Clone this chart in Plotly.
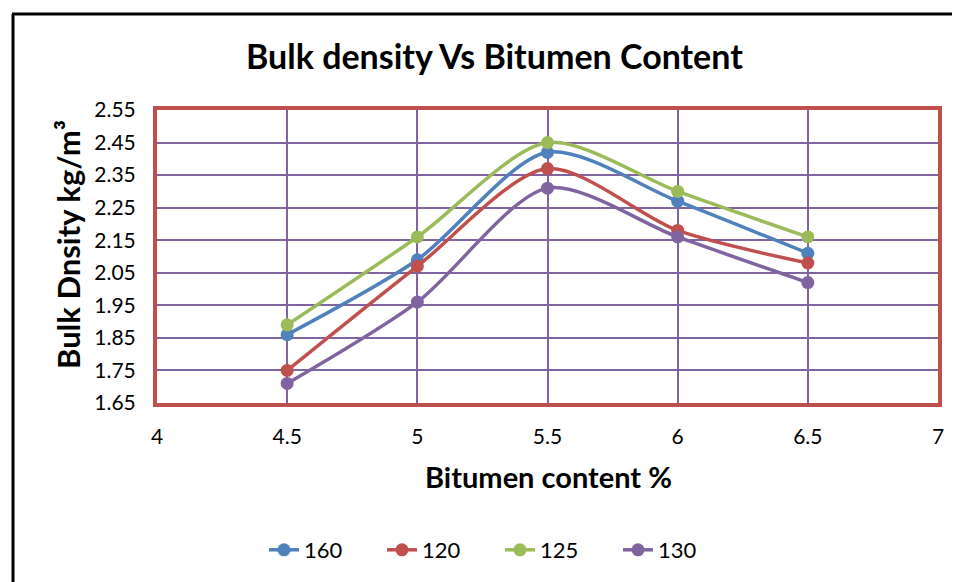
import plotly.graph_objects as go

bitumen = [4.5, 5, 5.5, 6, 6.5]
s160 = [1.86, 2.09, 2.42, 2.27, 2.11]
s120 = [1.75, 2.07, 2.37, 2.18, 2.08]
s125 = [1.89, 2.16, 2.45, 2.30, 2.16]
s130 = [1.71, 1.96, 2.31, 2.16, 2.02]
series_names = ["160", "120", "125", "130"]
colors = ["#4F81BD", "#C0504D", "#9BBB59", "#8064A2"]
y_ticks = [1.65, 1.75, 1.85, 1.95, 2.05, 2.15, 2.25, 2.35, 2.45, 2.55]
x_ticks = [4, 4.5, 5, 5.5, 6, 6.5, 7]
x_labels = ["4", "4.5", "5", "5.5", "6", "6.5", "7"]

FONT = "Lato"
OFF = 8  # page body margin
fig = go.Figure()
for name, ys, c in zip(series_names, [s160, s120, s125, s130], colors):
    fig.add_trace(go.Scatter(
        x=bitumen, y=ys, name=name, mode="lines+markers",
        line=dict(color=c, width=3.5, shape="spline", smoothing=0.8),
        marker=dict(color=c, size=13),
    ))

W, H = 952, 574
# target page coords of plot area
PL, PR, PT, PB = 157, 938, 110, 403
L = PL - OFF
T = PT - OFF
R = W - (PR - OFF)
B = H - (PB - OFF)
pw = W - L - R
ph = H - T - B

def px_x(px):
    return (px - OFF - L) / pw

def px_y(py):
    return (H - B - (py - OFF)) / ph

border = dict(color="black", width=3)
fig.update_layout(
    width=W, height=H,
    margin=dict(l=L, r=R, t=T, b=B),
    paper_bgcolor="white", plot_bgcolor="white",
    font=dict(family=FONT, color="black", size=21),
    showlegend=True,
    legend=dict(orientation="h", x=(500 - OFF) / W, xref="container", xanchor="center",
                y=1 - (550 - OFF) / H, yref="container", yanchor="middle",
                font=dict(size=22), traceorder="normal",
                entrywidth=73, entrywidthmode="pixels"),
    xaxis=dict(range=[4, 7], tickvals=x_ticks, ticktext=x_labels,
               showgrid=True, gridcolor="#8064A2", gridwidth=1.5,
               showline=True, linecolor="#C0504D", linewidth=4, mirror=True,
               ticks="", ticklabelstandoff=12, tickfont=dict(size=21),
               zeroline=False),
    yaxis=dict(range=[1.65, 2.55], tickvals=y_ticks, ticktext=[f"{v:.2f}" for v in y_ticks],
               showgrid=True, gridcolor="#8064A2", gridwidth=1.5,
               showline=True, linecolor="#C0504D", linewidth=4, mirror=True,
               ticks="", ticklabelstandoff=13, tickfont=dict(size=21),
               zeroline=False),
    shapes=[
        dict(type="line", xref="paper", yref="paper",
             x0=px_x(13), x1=px_x(13), y0=px_y(640), y1=px_y(14), line=border, layer="above"),
        dict(type="line", xref="paper", yref="paper",
             x0=px_x(12), x1=px_x(1020), y0=px_y(14), y1=px_y(14), line=border, layer="above"),
    ],
    annotations=[
        dict(text="<b>Bulk density Vs Bitumen Content</b>", xref="paper", yref="paper",
             x=px_x(494), y=px_y(56), showarrow=False, font=dict(size=34, family=FONT),
             xanchor="center", yanchor="middle"),
        dict(text="<b>Bitumen content %</b>", xref="paper", yref="paper",
             x=px_x(548), y=px_y(476), showarrow=False, font=dict(size=29, family=FONT),
             xanchor="center", yanchor="middle"),
        dict(text="<b>Bulk Dnsity kg/m³</b>", xref="paper", yref="paper",
             x=px_x(68), y=px_y(245), showarrow=False, font=dict(size=31, family=FONT),
             xanchor="center", yanchor="middle", textangle=-90),
    ],
)

fig.write_html("out.html")
